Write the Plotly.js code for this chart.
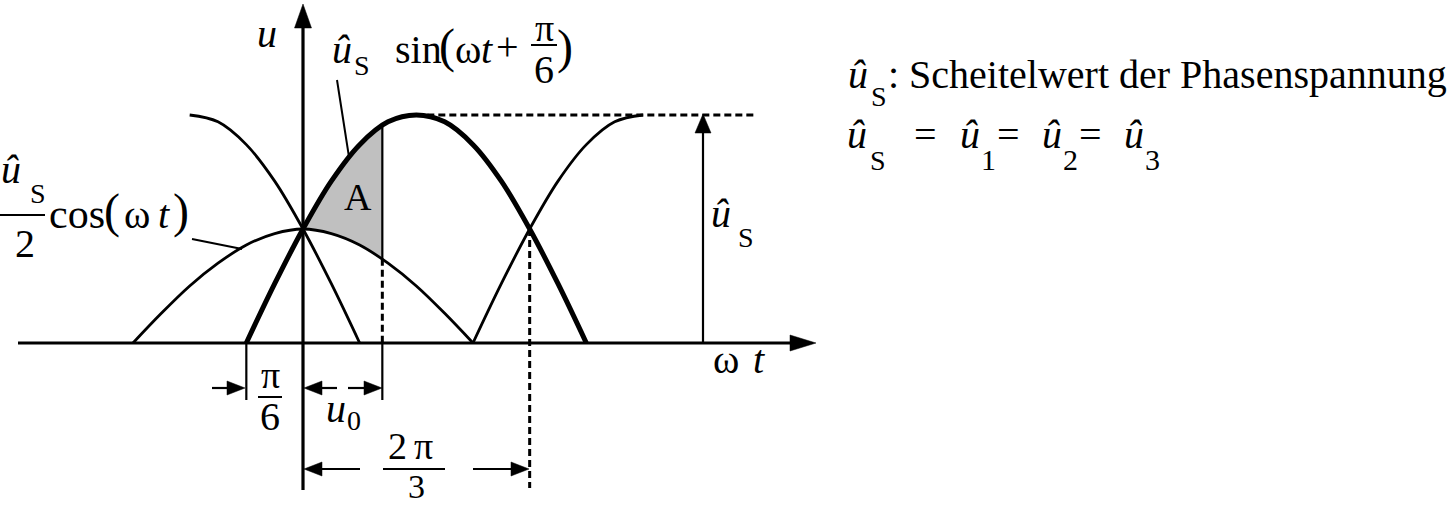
<!DOCTYPE html>
<html>
<head>
<meta charset="utf-8">
<script src="https://cdn.plot.ly/plotly-3.0.1.min.js"></script>
<style>
  html, body { margin: 0; padding: 0; background: #fff; }
  #chart { width: 1454px; height: 508px; }
</style>
</head>
<body>
<div id="chart"></div>
<script>
// omega*t in degrees, u in units of u_S
const wtThick = [-30, -15, 0, 15, 30, 45, 60, 75, 90, 105, 120, 135, 150];
const uThick = [0, 0.26, 0.5, 0.71, 0.87, 0.97, 1, 0.97, 0.87, 0.71, 0.5, 0.26, 0];

const wtHalfCos = [-90, -75, -60, -45, -30, -15, 0, 15, 30, 45, 60, 75, 90];
const uHalfCos = [0, 0.13, 0.25, 0.35, 0.43, 0.48, 0.5, 0.48, 0.43, 0.35, 0.25, 0.13, 0];

const wtFalling = [-60, -45, -30, -15, 0, 15, 30];
const uFalling = [1, 0.97, 0.87, 0.71, 0.5, 0.26, 0];

const wtRising = [90, 105, 120, 135, 150, 165, 180];
const uRising = [0, 0.26, 0.5, 0.71, 0.87, 0.97, 1];

// area A between the thick curve and u_S/2 cos
const wtAreaA = [0, 10, 20, 30, 42, 42, 30, 20, 10, 0];
const uAreaA = [0.5, 0.64, 0.77, 0.87, 0.95, 0.37, 0.43, 0.47, 0.49, 0.5];

const wtU0 = 42;        // end of u0
const uU0Top = 0.95, uU0Low = 0.37;
const wtTwoPiThird = 120, uCross = 0.5;
const wtPeak = 60;

// ---- pixel helpers (page is 1454 x 508, plot fills it) ----
const W = 1454, H = 508;
const X0 = 303, Y0 = 343, PXDEG = 340 / 180, PXU = 228;
const dx = p => (p - X0) / PXDEG;
const dy = p => (Y0 - p) / PXU;
const FONT = 'Liberation Serif, Times New Roman, serif';
const BLACK = '#000';

const shapes = [];
const line = (x1, y1, x2, y2, w, dash) => shapes.push({
  type: 'line', xref: 'x', yref: 'y', x0: dx(x1), y0: dy(y1), x1: dx(x2), y1: dy(y2),
  line: { color: BLACK, width: w, dash: dash || 'solid' }
});
const dline = (x1, y1, x2, y2, w, dash) => shapes.push({
  type: 'line', xref: 'x', yref: 'y', x0: x1, y0: y1, x1: x2, y1: y2,
  line: { color: BLACK, width: w, dash: dash || 'solid' }
});
// filled arrow head, tip at (tx, ty) pointing in direction dir
const head = (tx, ty, dir, len, half) => {
  let pts;
  if (dir === 'r') pts = [[tx, ty], [tx - len, ty - half], [tx - len, ty + half]];
  if (dir === 'l') pts = [[tx, ty], [tx + len, ty - half], [tx + len, ty + half]];
  if (dir === 'u') pts = [[tx, ty], [tx - half, ty + len], [tx + half, ty + len]];
  const path = 'M' + pts.map(p => dx(p[0]) + ',' + dy(p[1])).join(' L') + ' Z';
  shapes.push({ type: 'path', xref: 'x', yref: 'y', path, fillcolor: BLACK, line: { color: BLACK, width: 0.5 } });
};
const DASH = '7px,4px';

// axes
line(18, 343, 792, 343, 3.2);
head(816, 343, 'r', 26, 8);
line(303, 490, 303, 26, 3.2);
head(303, 4, 'u', 24, 8.5);

// peak guide + u_S arrow
dline(wtPeak, 1, dx(756), 1, 3, DASH);
line(703, 343, 703, 132, 2.2);
head(703, 114, 'u', 19, 8);

// u0 vertical
dline(wtU0, uU0Top, wtU0, uU0Low, 2.2);
dline(wtU0, uU0Low, wtU0, 0, 3, DASH);
dline(wtU0, 0, wtU0, dy(400), 2.2);
// -pi/6 tick
dline(-30, 0, -30, dy(400), 2.2);
// 2pi/3 vertical
dline(wtTwoPiThird, uCross, wtTwoPiThird, dy(488), 3, DASH);

// dimension arrows
line(212, 388, 235, 388, 2.2); head(245, 388, 'r', 18, 7);
line(337, 388, 313, 388, 2.2); head(304, 388, 'l', 18, 7);
line(348, 388, 372, 388, 2.2); head(382, 388, 'r', 18, 7);
line(360, 469, 313, 469, 2.2); head(304, 469, 'l', 18, 7);
line(473, 469, 520, 469, 2.2); head(529, 469, 'r', 18, 7);

// fraction bars
line(531, 45, 557, 45, 2);
line(0, 215, 45, 215, 2);
line(258, 397, 282, 397, 2);
line(383, 469, 445, 469, 2);

// leader lines
line(337, 80, 349, 157, 2);
line(192, 239, 242, 249, 2);

// ---- texts ----
const T = (text, cx, base, size, anchor) => ({
  xref: 'x', yref: 'y', x: dx(cx), y: dy(base - 0.3375 * size), text,
  showarrow: false, xanchor: anchor || 'center', yanchor: 'middle', borderpad: 0,
  font: { family: FONT, size, color: BLACK }
});
const U = '<i>û</i>';
const annotations = [
  T('<i>u</i>', 267, 47, 40),
  T(U, 342, 63, 40), T('S', 362, 75, 28), T('sin', 418, 63, 40), T('(', 447, 62, 48),
  T('ω', 468, 63, 40), T('<i>t</i>', 487, 63, 40), T('+', 507, 60, 40),
  T('π', 544, 41, 38), T('6', 544, 83, 40), T(')', 565, 63, 48),
  T('A', 358, 210, 38),
  T(U, 11, 183, 40), T('S', 38, 203, 28), T('2', 25, 257, 40),
  T('cos', 77, 228, 42), T('(', 112, 227, 48), T('ω', 137, 228, 40),
  T('<i>t</i>', 164, 228, 40), T(')', 181, 227, 48),
  T(U, 721, 227, 40), T('S', 746, 247, 28),
  T('ω', 726, 373, 40), T('<i>t</i>', 759, 373, 40),
  T('π', 270, 388, 38), T('6', 270, 430, 40),
  T('<i>u</i>', 336, 422, 40), T('0', 354, 430, 28),
  T('2', 397, 459, 38), T('π', 423, 459, 38), T('3', 416, 498, 34),
  T(U, 858, 88, 40), T('S', 879, 106, 28),
  T(': Scheitelwert der Phasenspannung', 887, 88, 40, 'left'),
  T(U, 857, 148, 40), T('S', 878, 170, 28), T('=', 925, 148, 40),
  T(U, 970, 148, 40), T('1', 988, 170, 30), T('=', 1008, 148, 40),
  T(U, 1052, 148, 40), T('2', 1070, 170, 30), T('=', 1090, 148, 40),
  T(U, 1134, 148, 40), T('3', 1152, 170, 30)
];

const curve = (x, y, w) => ({
  x, y, type: 'scatter', mode: 'lines', hoverinfo: 'skip',
  line: { color: BLACK, width: w, shape: 'spline' }
});

const data = [
  { x: wtAreaA, y: uAreaA, type: 'scatter', mode: 'lines', fill: 'toself',
    fillcolor: '#c0c0c0', line: { width: 0 }, hoverinfo: 'skip' },
  curve(wtHalfCos, uHalfCos, 2.8),
  curve(wtFalling, uFalling, 2.8),
  curve(wtRising, uRising, 2.8),
  curve(wtThick, uThick, 5)
];

const layout = {
  width: W, height: H,
  margin: { l: 0, r: 0, t: 0, b: 0 },
  paper_bgcolor: '#fff', plot_bgcolor: '#fff',
  showlegend: false,
  xaxis: { range: [dx(0), dx(W)], visible: false, fixedrange: true },
  yaxis: { range: [dy(H), dy(0)], visible: false, fixedrange: true },
  shapes, annotations
};

Plotly.newPlot('chart', data, layout, { displayModeBar: false, staticPlot: true });
</script>
</body>
</html>
